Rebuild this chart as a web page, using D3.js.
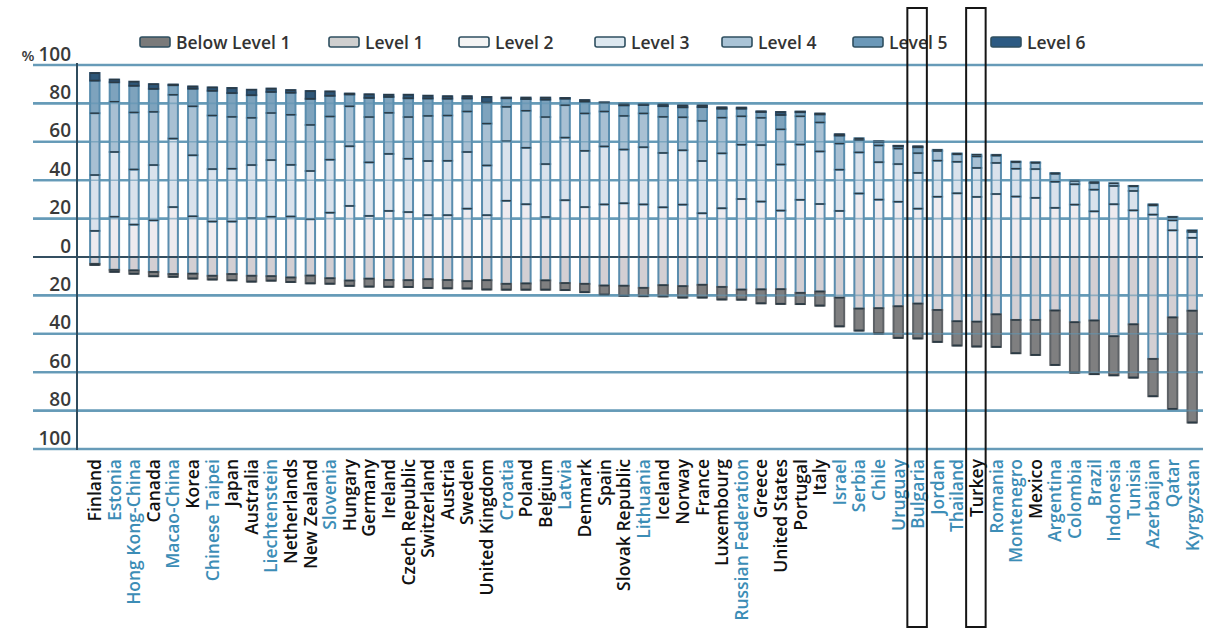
<!DOCTYPE html>
<html><head><meta charset="utf-8">
<script src="https://cdn.jsdelivr.net/npm/d3@7"></script>
<style>body{margin:0;background:#fff} svg{display:block}</style>
</head><body>
<svg id="chart" width="1205" height="637"></svg>
<script>
const countries = ["Finland","Estonia","Hong Kong-China","Canada","Macao-China","Korea","Chinese Taipei","Japan","Australia","Liechtenstein","Netherlands","New Zealand","Slovenia","Hungary","Germany","Ireland","Czech Republic","Switzerland","Austria","Sweden","United Kingdom","Croatia","Poland","Belgium","Latvia","Denmark","Spain","Slovak Republic","Lithuania","Iceland","Norway","France","Luxembourg","Russian Federation","Greece","United States","Portugal","Italy","Israel","Serbia","Chile","Uruguay","Bulgaria","Jordan","Thailand","Turkey","Romania","Montenegro","Mexico","Argentina","Colombia","Brazil","Indonesia","Tunisia","Azerbaijan","Qatar","Kyrgyzstan"];
const partners = ["Estonia","Hong Kong-China","Macao-China","Chinese Taipei","Liechtenstein","Slovenia","Croatia","Latvia","Lithuania","Russian Federation","Israel","Serbia","Chile","Uruguay","Bulgaria","Jordan","Thailand","Romania","Montenegro","Argentina","Colombia","Brazil","Indonesia","Tunisia","Azerbaijan","Qatar","Kyrgyzstan"];
const highlighted = ["Bulgaria","Turkey"];

const belowLevel1 = [0.5,1.0,1.7,2.2,1.4,2.5,1.9,3.2,3.0,2.3,2.3,4.0,2.8,2.7,4.1,3.5,3.5,4.5,4.3,3.8,4.8,3.0,3.2,4.8,3.6,4.3,4.7,5.2,4.3,5.8,5.9,6.6,6.5,5.2,7.2,7.6,5.8,7.3,14.9,11.4,13.1,16.4,18.1,16.6,12.6,12.9,16.9,17.3,18.2,28.3,26.2,27.9,20.3,27.7,19.4,47.6,58.2];
const level1 = [3.6,6.7,7.0,7.8,8.9,8.7,9.8,8.9,9.8,10.0,10.7,9.7,11.1,12.3,11.3,12.0,12.1,11.6,12.0,12.6,12.1,14.0,13.8,12.2,13.6,14.0,14.9,15.0,16.1,14.7,15.2,14.5,15.6,17.0,16.9,16.8,18.7,18.0,21.2,26.9,26.7,25.7,24.3,27.6,33.5,33.7,29.9,32.8,32.8,27.9,34.0,33.1,41.3,35.1,53.1,31.5,28.0];
const level2 = [13.6,21.0,16.9,19.1,26.0,21.2,18.5,18.5,20.2,21.0,21.1,19.7,23.1,26.6,21.4,24.0,23.4,21.8,21.8,25.2,21.8,29.3,27.5,20.8,29.6,26.0,27.4,28.0,27.4,25.9,27.3,22.8,25.4,30.2,28.9,24.2,29.8,27.6,24.0,33.1,29.9,28.8,25.2,31.4,33.2,31.3,32.8,31.5,30.8,25.6,27.3,23.8,27.5,24.3,22.1,13.9,10.0];
const level3 = [29.1,33.7,28.7,28.8,35.7,31.8,27.3,27.5,27.7,29.5,26.9,25.1,27.6,31.1,27.9,29.7,27.8,28.2,28.3,29.5,25.9,31.0,29.4,27.6,32.6,29.3,30.2,28.0,29.8,28.3,28.3,27.2,28.6,28.3,29.4,24.0,28.8,27.4,21.5,21.4,19.5,19.6,18.6,18.8,16.4,15.1,16.2,14.5,15.0,13.6,10.6,11.3,9.5,10.1,4.8,5.2,3.0];
const level4 = [32.2,26.2,29.7,27.7,22.8,25.5,27.9,27.0,24.6,24.5,26.1,24.0,22.5,20.8,23.6,21.4,21.7,23.5,23.6,21.1,21.8,17.9,19.3,24.5,16.9,19.5,18.2,17.5,17.6,18.8,17.2,20.9,18.6,14.8,14.2,18.3,14.7,15.1,13.6,6.5,8.7,8.1,10.3,5.0,3.9,6.0,3.8,3.4,3.2,4.1,1.8,3.4,1.4,2.5,0.5,1.5,0.7];
const level5 = [17.0,10.1,13.9,12.0,5.0,9.2,12.9,12.4,11.8,11.0,11.5,13.6,10.8,6.2,10.0,8.3,9.8,9.1,8.8,6.8,10.9,4.5,6.1,9.1,3.4,6.1,4.5,5.5,4.4,5.6,5.2,7.2,4.7,4.0,3.1,7.5,2.3,4.2,4.2,0.8,1.9,1.3,3.1,0.6,0.4,0.9,0.4,0.3,0.3,0.4,0.1,0.5,0.0,0.1,0.0,0.3,0.1];
const level6 = [3.9,1.4,2.1,2.4,0.3,1.1,1.7,2.6,2.8,1.7,1.3,4.0,2.2,0.4,1.8,1.1,1.8,1.4,1.2,1.1,2.9,0.3,0.7,1.0,0.3,0.8,0.2,0.8,0.4,0.9,0.9,0.8,0.6,0.5,0.2,1.5,0.1,0.4,0.6,0.0,0.2,0.1,0.4,0.0,0.0,0.0,0.0,0.0,0.0,0.0,0.0,0.0,0.0,0.0,0.0,0.0,0.0];

const levelNames = ["Below Level 1","Level 1","Level 2","Level 3","Level 4","Level 5","Level 6"];
const tickValues = [-100,-80,-60,-40,-20,0,20,40,60,80,100];

const colors = ["#7f7f80","#d3cfd3","#eeebef","#d9e2ec","#a8c0d3","#7ea3bd","#2f5778"];
const legendColors = ["#7a7a7a","#cfcfcf","#f4f4f4","#dde8f0","#a9c3d6","#6b98b8","#2c5a83"];
const legendX = [140,329,459,595,722,853,991];

const svg = d3.select("#chart");
const x = d3.scaleBand().domain(countries).range([85,1202]).paddingInner(0.52).paddingOuter(0.26);
const y = d3.scaleLinear().domain([-100,100]).range([449,65]);
const bw = x.bandwidth();

// build segments
const segs = [];
countries.forEach((c,i)=>{
  const l1 = level1[i], b1 = belowLevel1[i];
  segs.push({c, lv:1, y0:-l1, y1:0});
  segs.push({c, lv:0, y0:-(l1+b1), y1:-l1});
  const pos = [level2[i],level3[i],level4[i],level5[i],level6[i]];
  let acc = 0;
  pos.forEach((v,k)=>{ if(v>0){ segs.push({c, lv:k+2, y0:acc, y1:acc+v}); } acc+=v; });
});

// gridlines (under bars)
svg.append("g").selectAll("line").data(tickValues).join("line")
  .attr("x1", 33).attr("x2", 1203)
  .attr("y1", d=>y(d)).attr("y2", d=>y(d))
  .attr("stroke", d=> d===0 ? "#3c5e72" : "#6fa2bd")
  .attr("stroke-width", d=> d===0 ? 2.2 : 2.6);

const bars = svg.append("g");
bars.selectAll("rect").data(segs).join("rect")
  .attr("x", d=>x(d.c))
  .attr("width", bw)
  .attr("y", d=>y(d.y1))
  .attr("height", d=>Math.max(0.5, y(d.y0)-y(d.y1)))
  .attr("fill", d=>colors[d.lv])
  .attr("stroke", d=> d.lv===0 ? "#5e6266" : (d.lv===6 ? "#2a4a66" : "#5a8dae"))
  .attr("stroke-width", 2);

// dark dividers at top of each segment and bottom of bars
bars.selectAll("line.div").data(segs).join("line").attr("class","div")
  .attr("x1", d=>x(d.c)).attr("x2", d=>x(d.c)+bw)
  .attr("y1", d=>y(d.y1)).attr("y2", d=>y(d.y1))
  .attr("stroke", "#2b3a44").attr("stroke-width", 1.4);
bars.selectAll("line.bot").data(countries).join("line").attr("class","bot")
  .attr("x1", d=>x(d)).attr("x2", d=>x(d)+bw)
  .attr("y1", (d,i)=>y(-(level1[i]+belowLevel1[i]))).attr("y2", (d,i)=>y(-(level1[i]+belowLevel1[i])))
  .attr("stroke", "#2b3a44").attr("stroke-width", 1.8);

// gridlines faintly over bars
svg.append("g").selectAll("line").data(tickValues).join("line")
  .attr("x1", 33).attr("x2", 1203)
  .attr("y1", d=>y(d)).attr("y2", d=>y(d))
  .attr("stroke", d=> d===0 ? "#2f4656" : "#5f94b2")
  .attr("stroke-width", d=> d===0 ? 2 : 1.6)
  .attr("stroke-opacity", 0.6);

// vertical axis
svg.append("line").attr("x1",77).attr("x2",77).attr("y1",y(100)-2).attr("y2",y(-100)+1)
  .attr("stroke","#2f4c5e").attr("stroke-width",2);

// tick labels
const tl = svg.append("g").attr("font-family","Open Sans, sans-serif").attr("font-size",19)
  .attr("font-weight",600).attr("fill","#3a3a3a").attr("text-anchor","end");
tickValues.forEach(v=>{
  const t = tl.append("text").attr("x",71).attr("y",y(v)-4.5);
  if(v===100){
    t.append("tspan").attr("font-size",15).text("% ");
    t.append("tspan").text("100");
  } else t.text(Math.abs(v));
});

// legend
const lg = svg.append("g").attr("font-family","Open Sans, sans-serif").attr("font-size",17.5)
  .attr("font-weight",600).attr("fill","#333");
levelNames.forEach((n,i)=>{
  lg.append("rect").attr("x",legendX[i]).attr("y",37).attr("width",30).attr("height",10).attr("rx",2)
    .attr("fill",legendColors[i]).attr("stroke","#2f4f60").attr("stroke-width",1.6);
  lg.append("text").attr("x",legendX[i]+36).attr("y",49).text(n);
});

// country labels
svg.append("g").selectAll("text").data(countries).join("text")
  .attr("transform", d=>`translate(${x(d)+bw/2},459) rotate(-90)`)
  .attr("text-anchor","end").attr("dy","0.36em")
  .attr("font-family","Open Sans, sans-serif").attr("font-size",17.5).attr("font-weight",600)
  .attr("fill", d=> partners.includes(d) ? "#3c8db6" : "#111")
  .text(d=>d);

// highlight boxes
svg.append("g").selectAll("rect").data(highlighted).join("rect")
  .attr("x", d=>x(d)+bw/2-10.5).attr("width",19.5)
  .attr("y",8).attr("height",619)
  .attr("fill","none").attr("stroke","#151515").attr("stroke-width",2);
</script>
</body></html>
